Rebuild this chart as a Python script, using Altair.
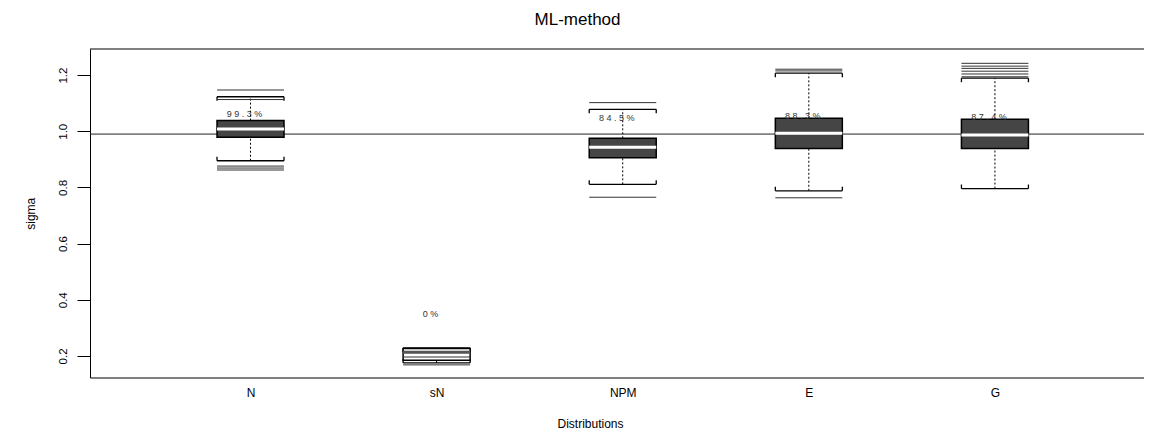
import json
import altair as alt
import pandas as pd

# ---------------- data ----------------
categories = ["N", "sN", "NPM", "E", "G"]
positions = [1, 2, 3, 4, 5]
lower_whisker = [0.895, 0.175, 0.811, 0.788, 0.796]
q1 = [0.979, 0.184, 0.906, 0.939, 0.939]
median = [1.008, 0.213, 0.943, 0.993, 0.987]
q3 = [1.038, 0.226, 0.975, 1.046, 1.043]
upper_whisker = [1.123, 0.228, 1.078, 1.207, 1.189]
coverage = [99.3, 0.0, 84.5, 88.3, 87.4]
coverage_labels = ["9 9 . 3 %", "0 %", "8 4 . 5 %", "8 8 . 3 %", "8 7 . 4 %"]
label_y = [1.062, 0.349, 1.048, 1.055, 1.052]

outlier_cat = (["N"] * 5 + ["sN"] * 2 + ["NPM"] * 2 + ["E"] * 3 + ["G"] * 6)
outlier_values = [1.147, 1.113, 0.876, 0.869, 0.862,
                  0.196, 0.168,
                  1.102, 0.765,
                  1.221, 1.215, 0.763,
                  1.242, 1.232, 1.224, 1.214, 1.204, 1.194]

true_sigma = [0.99]
y_ticks = [0.2, 0.4, 0.6, 0.8, 1.0, 1.2]
title_text = ["ML-method"]

# ---------------- tables ----------------
boxes = pd.DataFrame({
    "cat": categories, "pos": positions, "lo": lower_whisker, "q1": q1,
    "med": median, "q3": q3, "hi": upper_whisker, "cov": coverage,
    "lab": coverage_labels, "laby": label_y,
})
pos_map = dict(zip(categories, positions))
outliers = pd.DataFrame({"cat": outlier_cat,
                         "pos": [pos_map[c] for c in outlier_cat],
                         "v": outlier_values})

W, H = 1054, 328.5
HALF = 0.18

xs = alt.Scale(domain=[0.1375, 5.801], nice=False, zero=False)
ys = alt.Scale(domain=[0.123, 1.293], nice=False, zero=False)

xaxis = alt.Axis(
    values=positions,
    labelExpr=json.dumps(categories) + "[datum.value - 1]",
    ticks=False, tickSize=0, grid=False, domainColor="black",
    labelColor="black", labelFontSize=12, labelPadding=10,
    title="Distributions", titleX=500, titleY=50, titleBaseline="alphabetic",
    titleAlign="center", titleFontSize=12, titleFontWeight="normal",
    titleColor="black", labelOverlap=False,
)
yaxis = alt.Axis(
    values=y_ticks, format=".1f", grid=False, domainColor="black",
    tickColor="black", tickSize=13, labelPadding=9, labelAngle=270,
    labelAlign="center", labelBaseline="bottom", labelFontSize=11.5,
    labelColor="black", labelOverlap=False,
    title="sigma", titleAngle=270, titleX=-60, titleY=H / 2,
    titleAlign="center", titleBaseline="middle", titleFontSize=12,
    titleFontWeight="normal", titleColor="black",
)


def X(field):
    return alt.X(field, type="quantitative", scale=xs, axis=xaxis)


def Y(field):
    return alt.Y(field, type="quantitative", scale=ys, axis=yaxis)


base = alt.Chart(boxes).transform_calculate(
    xmin=f"datum.pos - {HALF}", xmax=f"datum.pos + {HALF}"
)

whisk_up = base.mark_rule(color="black", strokeDash=[2, 2], strokeWidth=1).encode(
    x=X("pos"), y=Y("q3"), y2="hi")
whisk_dn = base.mark_rule(color="black", strokeDash=[2, 2], strokeWidth=1).encode(
    x=X("pos"), y=Y("lo"), y2="q1")

cap_up = base.mark_rule(color="black", strokeWidth=1.3).encode(
    x=X("xmin"), x2="xmax", y=Y("hi"))
cap_dn = base.mark_rule(color="black", strokeWidth=1.3).encode(
    x=X("xmin"), x2="xmax", y=Y("lo"))

ends = []
for fx in ["xmin", "xmax"]:
    ends.append(base.mark_rule(color="black", strokeWidth=1.3, y2Offset=4).encode(
        x=X(fx), y=Y("hi"), y2="hi"))
    ends.append(base.mark_rule(color="black", strokeWidth=1.3, y2Offset=-4).encode(
        x=X(fx), y=Y("lo"), y2="lo"))

box = base.mark_rect(stroke="black", strokeWidth=1.5).encode(
    x=X("xmin"), x2="xmax", y=Y("q1"), y2="q3",
    fill=alt.condition("datum.cov > 0", alt.value("#454545"), alt.value("white")),
)
med = base.mark_rule(strokeWidth=3).encode(
    x=X("xmin"), x2="xmax", y=Y("med"),
    color=alt.condition("datum.cov > 0", alt.value("white"), alt.value("#555555")),
)

out = alt.Chart(outliers).transform_calculate(
    xmin=f"datum.pos - {HALF}", xmax=f"datum.pos + {HALF}"
).mark_rule(color="#333333", strokeWidth=1).encode(
    x=X("xmin"), x2="xmax", y=Y("v"))

labels = base.mark_text(fontSize=9, color="#333333", dx=-6, baseline="middle").encode(
    x=X("pos"), y=Y("laby"), text="lab:N")

ref = alt.Chart(pd.DataFrame({"s": true_sigma})).mark_rule(
    color="#222222", strokeWidth=1).encode(
    y=Y("s"), x=alt.value(0), x2=alt.value(W))

top = alt.Chart(pd.DataFrame({"s": true_sigma})).mark_rule(
    color="black", strokeWidth=1).encode(
    y=alt.value(0), x=alt.value(0), x2=alt.value(W))

title = alt.Chart(pd.DataFrame({"t": title_text})).mark_text(
    fontSize=17, color="black", baseline="middle", align="center").encode(
    text="t:N", x=alt.value(487.5), y=alt.value(-29))

chart = alt.layer(
    ref, top, whisk_up, whisk_dn, cap_up, cap_dn, *ends, box, med, out, labels, title
).properties(
    width=W, height=H,
    autosize=alt.AutoSizeParams(type="none"),
    padding={"left": 82, "top": 41, "right": 0, "bottom": 52},
).configure(font="Liberation Sans").configure_view(strokeWidth=0)

chart.save("out.html", embed_options={"renderer": "svg", "actions": False})
